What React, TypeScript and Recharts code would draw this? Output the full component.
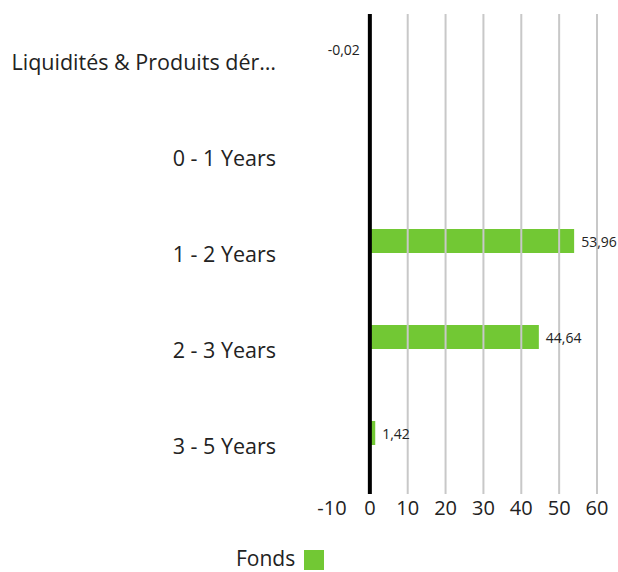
import { BarChart, Bar, XAxis, YAxis, ReferenceLine, LabelList, Legend } from 'recharts';

const categories = [
  'Liquidités & Produits dérivés',
  '0 - 1 Years',
  '1 - 2 Years',
  '2 - 3 Years',
  '3 - 5 Years',
];
const fonds = [-0.02, 0.0, 53.96, 44.64, 1.42];
const xTicks = [-10, 0, 10, 20, 30, 40, 50, 60];
const gridValues = [10, 20, 30, 40, 50, 60];

const GREEN = '#72c834';
const FONT = '"Open Sans", sans-serif';

const data = categories.map((name, i) => ({ name, fonds: fonds[i] }));

const fmt = (v: number) => v.toFixed(2).replace('.', ',');

const truncate = (s: string) => (s.length > 25 ? s.slice(0, 25) + '…' : s);

function ValueLabel(props: any) {
  const { x, y, width, height, value } = props;
  const cy = y + height / 2;
  if (value < 0) {
    const left = Math.min(x, x + width);
    return (
      <text x={left - 10} y={cy} textAnchor="end" dominantBaseline="central" fontSize={14} fill="#222" fontFamily={FONT}>
        {fmt(value)}
      </text>
    );
  }
  const right = Math.max(x, x + width);
  return (
    <text x={right + 7} y={cy} textAnchor="start" dominantBaseline="central" fontSize={14} fill="#222" fontFamily={FONT}>
      {fmt(value)}
    </text>
  );
}

function LegendContent() {
  return (
    <div
      style={{
        height: 48,
        display: 'flex',
        alignItems: 'center',
        paddingLeft: 236,
        paddingTop: 20,
        fontFamily: FONT,
        fontSize: 21,
        color: '#222',
        boxSizing: 'border-box',
      }}
    >
      <span style={{ lineHeight: '22px' }}>Fonds</span>
      <span style={{ display: 'inline-block', width: 20, height: 20, background: GREEN, marginLeft: 9, marginTop: 4 }} />
    </div>
  );
}

export default function App() {
  return (
    <div style={{ position: 'absolute', left: 0, top: 0 }}>
      <BarChart
        width={618}
        height={572}
        data={data}
        layout="vertical"
        margin={{ top: 14, right: 21, left: 0, bottom: 0 }}
        barGap={2}
        barSize={24}
      >
        <XAxis
          type="number"
          domain={[-10, 60]}
          ticks={xTicks}
          axisLine={false}
          tickLine={false}
          tickSize={0}
          tickMargin={7}
          height={30}
          tick={{ fontSize: 20, fill: '#222', fontFamily: FONT }}
        />
        <YAxis
          type="category"
          dataKey="name"
          width={332}
          axisLine={false}
          tickLine={false}
          tickSize={0}
          tickMargin={56}
          tickFormatter={truncate}
          tick={{ fontSize: 21.5, fill: '#222', fontFamily: FONT }}
        />
        {gridValues.map((v) => (
          <ReferenceLine key={v} x={v} stroke="#c8c8c8" strokeWidth={2} />
        ))}
        <ReferenceLine x={0} stroke="#000" strokeWidth={4} />
        <Legend
          verticalAlign="bottom"
          content={<LegendContent />}
          wrapperStyle={{ bottom: 0, left: 0, width: 618, height: 48 }}
        />
        <Bar dataKey="fonds" name="Fonds" fill={GREEN} isAnimationActive={false}>
          <LabelList dataKey="fonds" content={<ValueLabel />} />
        </Bar>
        <Bar dataKey="fonds" fill="transparent" legendType="none" isAnimationActive={false} />
      </BarChart>
    </div>
  );
}
